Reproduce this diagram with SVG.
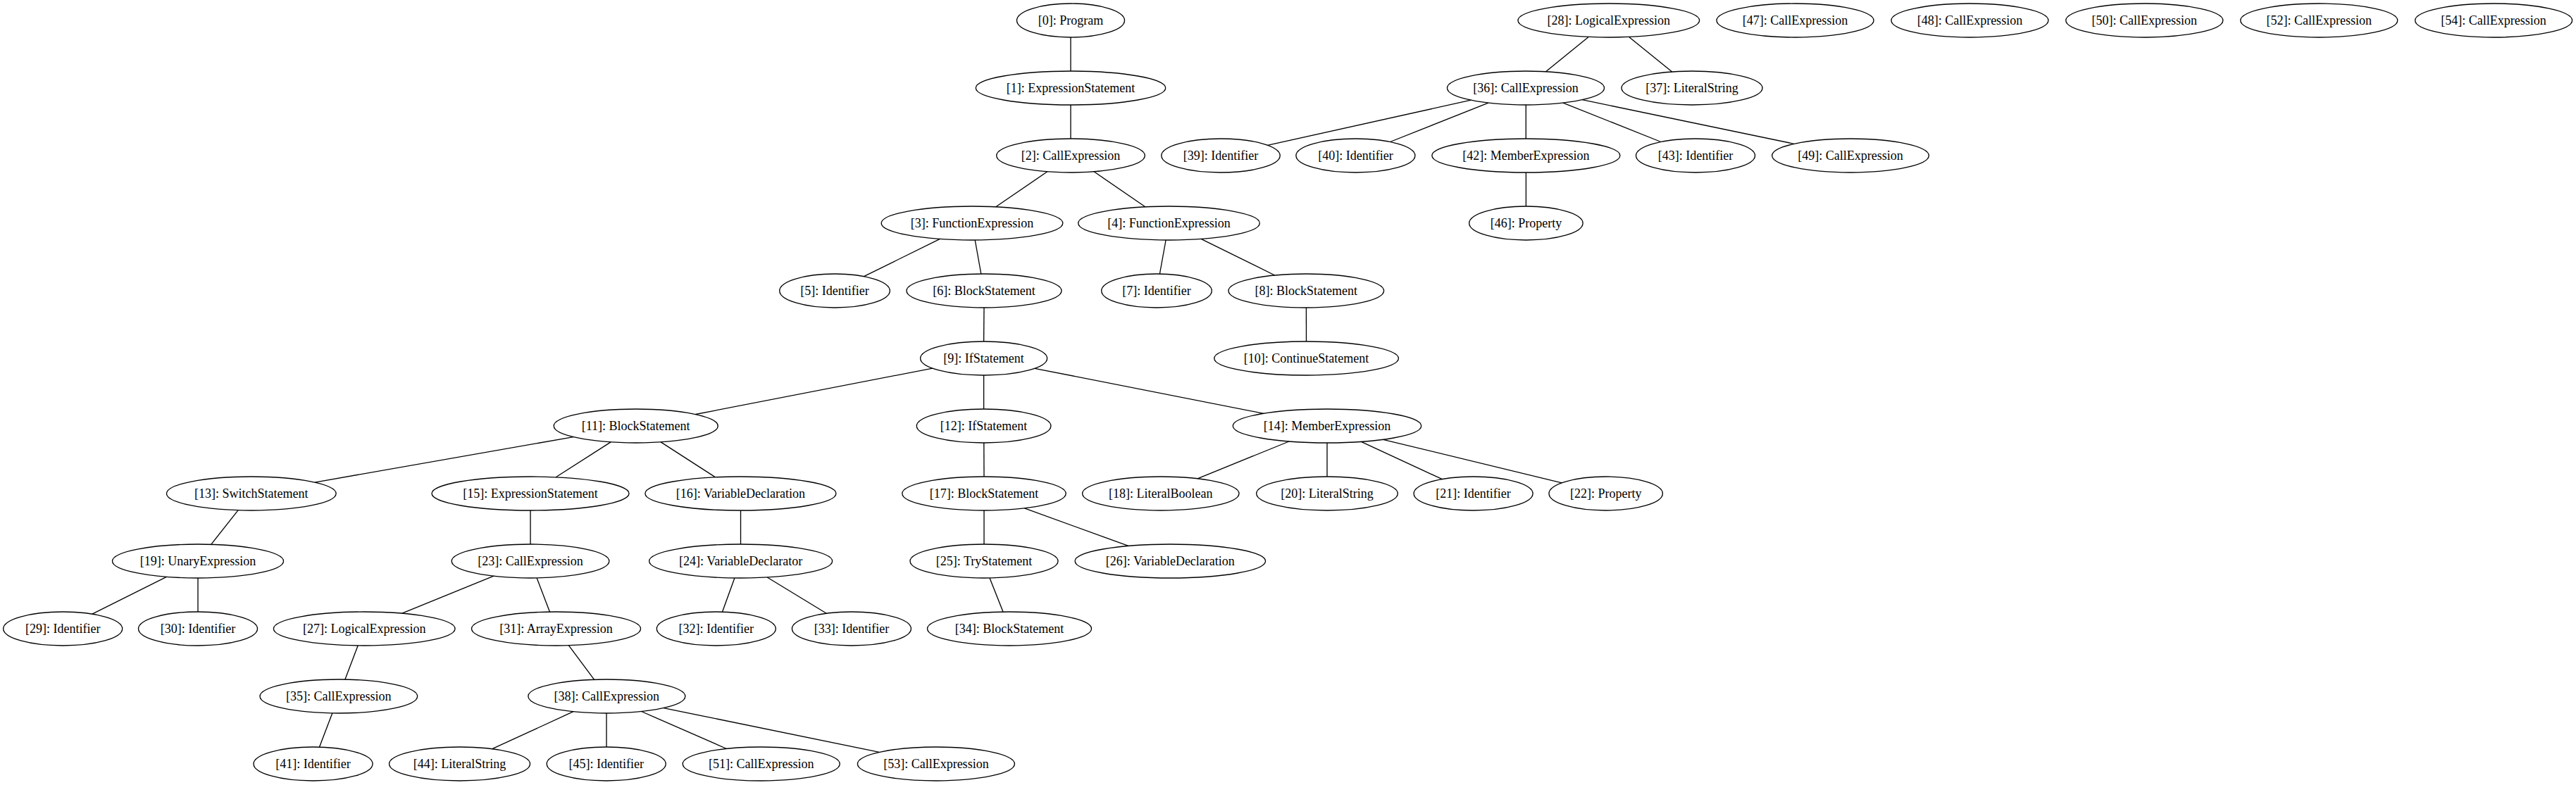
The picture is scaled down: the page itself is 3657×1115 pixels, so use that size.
<svg xmlns="http://www.w3.org/2000/svg" width="3657" height="1115" viewBox="0 0 3657 1115">
<style>
.n ellipse{fill:none;stroke:#000;stroke-width:1.33}
.n text{font-family:"Liberation Serif","Times New Roman",serif;font-size:18px;text-anchor:middle;fill:#000}
#edges line{stroke:#000;stroke-width:1.33}
</style>
<rect width="3657" height="1115" fill="#fff"/>
<g id="edges">
<line x1="1520" y1="53" x2="1520" y2="101"/>
<line x1="1520" y1="149" x2="1520" y2="197"/>
<line x1="1486.8" y1="243.8" x2="1413.8" y2="293.8"/>
<line x1="1553.1" y1="243.8" x2="1625.8" y2="293.8"/>
<line x1="1334.4" y1="339.4" x2="1226.4" y2="392.6"/>
<line x1="1384.2" y1="341" x2="1392.8" y2="389"/>
<line x1="1655.1" y1="341" x2="1646.4" y2="389"/>
<line x1="1705.1" y1="339.4" x2="1809.7" y2="391"/>
<line x1="1854.4" y1="437" x2="1854.5" y2="485"/>
<line x1="1397" y1="437" x2="1396.6" y2="485"/>
<line x1="1323.9" y1="523.1" x2="987.4" y2="588.5"/>
<line x1="1396.6" y1="533" x2="1396.6" y2="581"/>
<line x1="1469" y1="523.3" x2="1793.9" y2="587.3"/>
<line x1="814.1" y1="620.6" x2="447" y2="685.1"/>
<line x1="867.1" y1="627.9" x2="789.2" y2="677.8"/>
<line x1="938.1" y1="627.9" x2="1015.6" y2="677.9"/>
<line x1="338.1" y1="724.7" x2="299.7" y2="773.3"/>
<line x1="236.4" y1="819.3" x2="130.9" y2="872.1"/>
<line x1="281" y1="821" x2="281" y2="869"/>
<line x1="753" y1="725" x2="753" y2="773"/>
<line x1="700.9" y1="818.2" x2="570.8" y2="871.2"/>
<line x1="762.1" y1="820.9" x2="780.4" y2="869.1"/>
<line x1="508.1" y1="916.9" x2="489.9" y2="965.1"/>
<line x1="471.8" y1="1012.9" x2="453.5" y2="1061.1"/>
<line x1="807.3" y1="916.7" x2="843.6" y2="965.3"/>
<line x1="814" y1="1010.7" x2="698.8" y2="1063.7"/>
<line x1="861" y1="1013" x2="861" y2="1061"/>
<line x1="910.5" y1="1010.5" x2="1031.5" y2="1063.5"/>
<line x1="942" y1="1005.6" x2="1248.2" y2="1068.4"/>
<line x1="1051.5" y1="725" x2="1051.5" y2="773"/>
<line x1="1042.9" y1="820.9" x2="1025.5" y2="869.1"/>
<line x1="1089.2" y1="820" x2="1173.3" y2="871.2"/>
<line x1="1396.8" y1="629" x2="1397" y2="677"/>
<line x1="1397" y1="725" x2="1397" y2="773"/>
<line x1="1454.4" y1="721.9" x2="1601.9" y2="775.4"/>
<line x1="1405" y1="820.9" x2="1424" y2="869.1"/>
<line x1="1830" y1="627" x2="1700" y2="679.8"/>
<line x1="1884" y1="629" x2="1884" y2="677"/>
<line x1="1932.4" y1="627.4" x2="2047.4" y2="680.6"/>
<line x1="1963.5" y1="624.3" x2="2217.2" y2="685.8"/>
<line x1="2255.1" y1="52.4" x2="2194.5" y2="101.8"/>
<line x1="2312.6" y1="52.4" x2="2373.7" y2="102"/>
<line x1="2088.3" y1="142.2" x2="1799.4" y2="206.3"/>
<line x1="2112.9" y1="146.1" x2="1973.5" y2="201.5"/>
<line x1="2166.3" y1="149" x2="2166.3" y2="197"/>
<line x1="2219" y1="146.1" x2="2357.9" y2="201.5"/>
<line x1="2246.1" y1="141.7" x2="2546.9" y2="204.3"/>
<line x1="2166.4" y1="245" x2="2166.4" y2="293"/>
</g>
<g id="n0" class="n"><ellipse cx="1520" cy="29" rx="76.5" ry="24"/><text x="1520" y="34.5">[0]: Program</text></g>
<g id="n1" class="n"><ellipse cx="1520" cy="125" rx="134.7" ry="24"/><text x="1520" y="130.5">[1]: ExpressionStatement</text></g>
<g id="n2" class="n"><ellipse cx="1520" cy="221" rx="105.3" ry="24"/><text x="1520" y="226.5">[2]: CallExpression</text></g>
<g id="n3" class="n"><ellipse cx="1380" cy="317" rx="128.8" ry="24"/><text x="1380" y="322.5">[3]: FunctionExpression</text></g>
<g id="n4" class="n"><ellipse cx="1659.5" cy="317" rx="128.8" ry="24"/><text x="1659.5" y="322.5">[4]: FunctionExpression</text></g>
<g id="n5" class="n"><ellipse cx="1185" cy="413" rx="78.3" ry="24"/><text x="1185" y="418.5">[5]: Identifier</text></g>
<g id="n6" class="n"><ellipse cx="1397" cy="413" rx="110" ry="24"/><text x="1397" y="418.5">[6]: BlockStatement</text></g>
<g id="n7" class="n"><ellipse cx="1642" cy="413" rx="78.3" ry="24"/><text x="1642" y="418.5">[7]: Identifier</text></g>
<g id="n8" class="n"><ellipse cx="1854.3" cy="413" rx="110.3" ry="24"/><text x="1854.3" y="418.5">[8]: BlockStatement</text></g>
<g id="n9" class="n"><ellipse cx="1396.6" cy="509" rx="90" ry="24"/><text x="1396.6" y="514.5">[9]: IfStatement</text></g>
<g id="n10" class="n"><ellipse cx="1854.6" cy="509" rx="130.8" ry="24"/><text x="1854.6" y="514.5">[10]: ContinueStatement</text></g>
<g id="n11" class="n"><ellipse cx="902.7" cy="605" rx="116.5" ry="24"/><text x="902.7" y="610.5">[11]: BlockStatement</text></g>
<g id="n12" class="n"><ellipse cx="1396.6" cy="605" rx="95.3" ry="24"/><text x="1396.6" y="610.5">[12]: IfStatement</text></g>
<g id="n14" class="n"><ellipse cx="1884" cy="605" rx="133.7" ry="24"/><text x="1884" y="610.5">[14]: MemberExpression</text></g>
<g id="n13" class="n"><ellipse cx="356.8" cy="701" rx="120.3" ry="24"/><text x="356.8" y="706.5">[13]: SwitchStatement</text></g>
<g id="n15" class="n"><ellipse cx="753" cy="701" rx="140" ry="24"/><text x="753" y="706.5">[15]: ExpressionStatement</text></g>
<g id="n16" class="n"><ellipse cx="1051.4" cy="701" rx="135.5" ry="24"/><text x="1051.4" y="706.5">[16]: VariableDeclaration</text></g>
<g id="n17" class="n"><ellipse cx="1397" cy="701" rx="116.2" ry="24"/><text x="1397" y="706.5">[17]: BlockStatement</text></g>
<g id="n18" class="n"><ellipse cx="1647.8" cy="701" rx="111.2" ry="24"/><text x="1647.8" y="706.5">[18]: LiteralBoolean</text></g>
<g id="n20" class="n"><ellipse cx="1884" cy="701" rx="100.3" ry="24"/><text x="1884" y="706.5">[20]: LiteralString</text></g>
<g id="n21" class="n"><ellipse cx="2091.6" cy="701" rx="84.5" ry="24"/><text x="2091.6" y="706.5">[21]: Identifier</text></g>
<g id="n22" class="n"><ellipse cx="2279.7" cy="701" rx="80.7" ry="24"/><text x="2279.7" y="706.5">[22]: Property</text></g>
<g id="n19" class="n"><ellipse cx="281" cy="797" rx="121.5" ry="24"/><text x="281" y="802.5">[19]: UnaryExpression</text></g>
<g id="n23" class="n"><ellipse cx="753" cy="797" rx="111.8" ry="24"/><text x="753" y="802.5">[23]: CallExpression</text></g>
<g id="n24" class="n"><ellipse cx="1051.6" cy="797" rx="130" ry="24"/><text x="1051.6" y="802.5">[24]: VariableDeclarator</text></g>
<g id="n25" class="n"><ellipse cx="1397" cy="797" rx="105" ry="24"/><text x="1397" y="802.5">[25]: TryStatement</text></g>
<g id="n26" class="n"><ellipse cx="1661.3" cy="797" rx="135.2" ry="24"/><text x="1661.3" y="802.5">[26]: VariableDeclaration</text></g>
<g id="n29" class="n"><ellipse cx="89.2" cy="893" rx="84.5" ry="24"/><text x="89.2" y="898.5">[29]: Identifier</text></g>
<g id="n30" class="n"><ellipse cx="281" cy="893" rx="84.5" ry="24"/><text x="281" y="898.5">[30]: Identifier</text></g>
<g id="n27" class="n"><ellipse cx="517.2" cy="893" rx="128.8" ry="24"/><text x="517.2" y="898.5">[27]: LogicalExpression</text></g>
<g id="n31" class="n"><ellipse cx="789.5" cy="893" rx="120" ry="24"/><text x="789.5" y="898.5">[31]: ArrayExpression</text></g>
<g id="n32" class="n"><ellipse cx="1016.8" cy="893" rx="84.5" ry="24"/><text x="1016.8" y="898.5">[32]: Identifier</text></g>
<g id="n33" class="n"><ellipse cx="1208.9" cy="893" rx="84.5" ry="24"/><text x="1208.9" y="898.5">[33]: Identifier</text></g>
<g id="n34" class="n"><ellipse cx="1433" cy="893" rx="116.5" ry="24"/><text x="1433" y="898.5">[34]: BlockStatement</text></g>
<g id="n35" class="n"><ellipse cx="480.8" cy="989" rx="111.8" ry="24"/><text x="480.8" y="994.5">[35]: CallExpression</text></g>
<g id="n38" class="n"><ellipse cx="861.3" cy="989" rx="111.5" ry="24"/><text x="861.3" y="994.5">[38]: CallExpression</text></g>
<g id="n41" class="n"><ellipse cx="444.5" cy="1085" rx="84.5" ry="24"/><text x="444.5" y="1090.5">[41]: Identifier</text></g>
<g id="n44" class="n"><ellipse cx="652.5" cy="1085" rx="100" ry="24"/><text x="652.5" y="1090.5">[44]: LiteralString</text></g>
<g id="n45" class="n"><ellipse cx="860.7" cy="1085" rx="84.5" ry="24"/><text x="860.7" y="1090.5">[45]: Identifier</text></g>
<g id="n51" class="n"><ellipse cx="1080.7" cy="1085" rx="111.5" ry="24"/><text x="1080.7" y="1090.5">[51]: CallExpression</text></g>
<g id="n53" class="n"><ellipse cx="1328.9" cy="1085" rx="111.5" ry="24"/><text x="1328.9" y="1090.5">[53]: CallExpression</text></g>
<g id="n28" class="n"><ellipse cx="2283.8" cy="29" rx="128.8" ry="24"/><text x="2283.8" y="34.5">[28]: LogicalExpression</text></g>
<g id="n47" class="n"><ellipse cx="2548.5" cy="29" rx="111.5" ry="24"/><text x="2548.5" y="34.5">[47]: CallExpression</text></g>
<g id="n48" class="n"><ellipse cx="2796.4" cy="29" rx="111.5" ry="24"/><text x="2796.4" y="34.5">[48]: CallExpression</text></g>
<g id="n50" class="n"><ellipse cx="3044.3" cy="29" rx="111.5" ry="24"/><text x="3044.3" y="34.5">[50]: CallExpression</text></g>
<g id="n52" class="n"><ellipse cx="3292.2" cy="29" rx="111.5" ry="24"/><text x="3292.2" y="34.5">[52]: CallExpression</text></g>
<g id="n54" class="n"><ellipse cx="3540.1" cy="29" rx="111.5" ry="24"/><text x="3540.1" y="34.5">[54]: CallExpression</text></g>
<g id="n36" class="n"><ellipse cx="2166" cy="125" rx="111.5" ry="24"/><text x="2166" y="130.5">[36]: CallExpression</text></g>
<g id="n37" class="n"><ellipse cx="2402" cy="125" rx="100" ry="24"/><text x="2402" y="130.5">[37]: LiteralString</text></g>
<g id="n39" class="n"><ellipse cx="1733" cy="221" rx="84.2" ry="24"/><text x="1733" y="226.5">[39]: Identifier</text></g>
<g id="n40" class="n"><ellipse cx="1924.4" cy="221" rx="84.5" ry="24"/><text x="1924.4" y="226.5">[40]: Identifier</text></g>
<g id="n42" class="n"><ellipse cx="2166.4" cy="221" rx="133.5" ry="24"/><text x="2166.4" y="226.5">[42]: MemberExpression</text></g>
<g id="n43" class="n"><ellipse cx="2407" cy="221" rx="84.5" ry="24"/><text x="2407" y="226.5">[43]: Identifier</text></g>
<g id="n49" class="n"><ellipse cx="2627" cy="221" rx="111.3" ry="24"/><text x="2627" y="226.5">[49]: CallExpression</text></g>
<g id="n46" class="n"><ellipse cx="2166.4" cy="317" rx="80.7" ry="24"/><text x="2166.4" y="322.5">[46]: Property</text></g>
</svg>
